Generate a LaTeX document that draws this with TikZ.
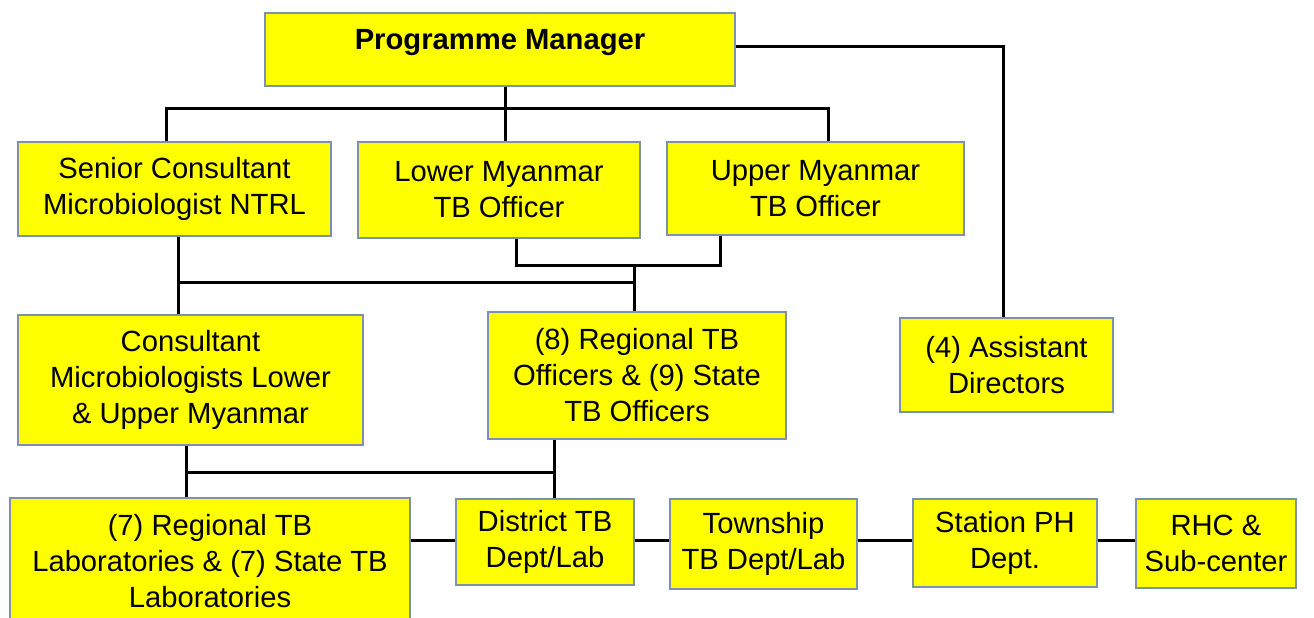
\documentclass[tikz,border=0pt]{standalone}
\usepackage{fontspec}
\setmainfont{Liberation Sans}
\definecolor{boxyellow}{RGB}{255,255,0}
\definecolor{boxborder}{RGB}{125,145,172}
\begin{document}
\begin{tikzpicture}[x=0.5pt,y=-0.5pt,
  orgbox/.style={draw=boxborder, line width=0.7pt, fill=boxyellow, align=center,
    inner sep=0pt, font=\fontsize{14.6}{18}\selectfont},
  link/.style={line width=1.5pt, black}]
\useasboundingbox (0,0) rectangle (1314,617);
% nodes
\node[orgbox, minimum width=235pt, minimum height=36.5pt, text depth=10pt,
  font=\fontsize{14.6}{18}\selectfont\bfseries] (pm) at (500,49.5) {Programme Manager};
\node[orgbox, minimum width=156.5pt, minimum height=47pt] (sen) at (174.5,189) {Senior Consultant\\Microbiologist NTRL};
\node[orgbox, minimum width=141pt, minimum height=48pt] (low) at (499,190) {Lower Myanmar\\TB Officer};
\node[orgbox, minimum width=148.5pt, minimum height=46.5pt] (up) at (815.5,188.5) {Upper Myanmar\\TB Officer};
\node[orgbox, minimum width=172.5pt, minimum height=65pt] (con) at (190.5,380) {Consultant\\Microbiologists Lower\\\& Upper Myanmar};
\node[orgbox, minimum width=149pt, minimum height=63.5pt] (reg) at (637,375.5) {(8) Regional TB\\Officers \& (9) State\\TB Officers};
\node[orgbox, minimum width=106.5pt, minimum height=47pt] (ast) at (1006.5,365) {(4) Assistant\\Directors};
\node[orgbox, minimum width=200pt, minimum height=63.5pt] (lab) at (210,561.5) {(7) Regional TB\\Laboratories \& (7) State TB\\Laboratories};
\node[orgbox, minimum width=89pt, minimum height=43pt] (dis) at (545,542) {District TB\\Dept/Lab};
\node[orgbox, minimum width=93.5pt, minimum height=45pt] (tow) at (763.5,544) {Township\\TB Dept/Lab};
\node[orgbox, minimum width=92pt, minimum height=44pt] (sta) at (1005,543) {Station PH\\Dept.};
\node[orgbox, minimum width=80pt, minimum height=44.5pt] (rhc) at (1216,543.5) {RHC \&\\Sub-center};
% junction coordinates
\coordinate (ja) at (505,108);
\coordinate (ja1) at (166,108);
\coordinate (ja2) at (828,108);
\coordinate (jb) at (1003,46);
\coordinate (jc1) at (178,282);
\coordinate (jc2) at (634,282);
\coordinate (jd1) at (516,265);
\coordinate (jd2) at (720,265);
\coordinate (je1) at (186,472);
\coordinate (je2) at (554,472);
\coordinate (jf) at (0,540);
% connectors
\draw[link] (pm.south -| ja) -- (low.north -| ja);
\draw[link] (sen.north -| ja1) -- (ja1) -- (ja2) -- (up.north -| ja2);
\draw[link] (pm.east |- jb) -- (jb) -- (ast.north -| jb);
\draw[link] (sen.south -| jc1) -- (con.north -| jc1);
\draw[link] (jc1) -- (jc2);
\draw[link] (low.south -| jd1) -- (jd1) -- (jd2) -- (up.south -| jd2);
\draw[link] (jc2 |- jd1) -- (reg.north -| jc2);
\draw[link] (con.south -| je1) -- (lab.north -| je1);
\draw[link] (je1) -- (je2);
\draw[link] (reg.south -| je2) -- (dis.north -| je2);
\draw[link] (lab.east |- jf) -- (dis.west |- jf);
\draw[link] (dis.east |- jf) -- (tow.west |- jf);
\draw[link] (tow.east |- jf) -- (sta.west |- jf);
\draw[link] (sta.east |- jf) -- (rhc.west |- jf);
\end{tikzpicture}
\end{document}
